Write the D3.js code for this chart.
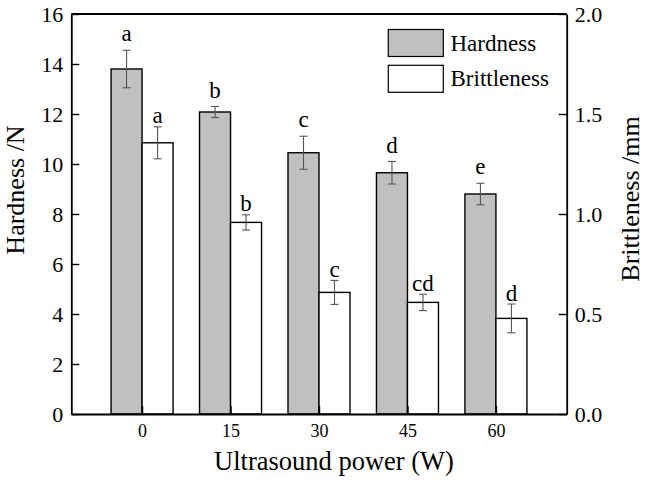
<!DOCTYPE html>
<html>
<head>
<meta charset="utf-8">
<script src="https://cdn.jsdelivr.net/npm/d3@7"></script>
<style>
  body { margin: 0; background: #fff; }
  svg { font-family: "Liberation Serif", "Times New Roman", serif; }
</style>
</head>
<body>
<svg id="Viz" width="646" height="483"></svg>
<script>
// data
let powers = [0, 15, 30, 45, 60];
let hardness = [13.8, 12.08, 10.45, 9.65, 8.8];
let hardnessErr = [0.75, 0.22, 0.66, 0.45, 0.43];
let brittleness = [1.356, 0.958, 0.608, 0.558, 0.478];
let brittlenessErr = [0.08, 0.038, 0.06, 0.041, 0.072];
let hardnessLetters = ['a', 'b', 'c', 'd', 'e'];
let brittlenessLetters = ['a', 'b', 'c', 'cd', 'd'];
let leftTicks = [0, 2, 4, 6, 8, 10, 12, 14, 16];
let rightTicks = [0, 0.5, 1.0, 1.5, 2.0];

let plotL = 71.3, plotR = 566.7, plotT = 14, plotB = 414;
let barW = 31;
let grey = '#c0c0c0';

let vizArea = d3.select('#Viz');

let xScale = d3.scaleLinear().domain([-12, 72]).range([plotL, plotR]);
let yScale = d3.scaleLinear().domain([0, 16]).range([plotB, plotT]);
let y2Scale = d3.scaleLinear().domain([0, 2]).range([plotB, plotT]);

// bars
let hardRows = powers.map((p, i) => ({p: p, v: hardness[i], e: hardnessErr[i], t: hardnessLetters[i]}));
let britRows = powers.map((p, i) => ({p: p, v: brittleness[i], e: brittlenessErr[i], t: brittlenessLetters[i]}));

vizArea.selectAll('.hbar')
  .data(hardRows)
  .enter()
  .append('rect')
  .attr('x', d => xScale(d.p) - barW)
  .attr('y', d => yScale(d.v))
  .attr('width', barW)
  .attr('height', d => plotB - yScale(d.v))
  .attr('fill', grey)
  .attr('stroke', '#000')
  .attr('stroke-width', 1.4);

vizArea.selectAll('.bbar')
  .data(britRows)
  .enter()
  .append('rect')
  .attr('x', d => xScale(d.p))
  .attr('y', d => y2Scale(d.v))
  .attr('width', barW)
  .attr('height', d => plotB - y2Scale(d.v))
  .attr('fill', '#fff')
  .attr('stroke', '#000')
  .attr('stroke-width', 1.4);

// error bars
function errBars(rows, scale, dx) {
  let g = vizArea.append('g').attr('stroke', '#555').attr('stroke-width', 1.1);
  rows.forEach(d => {
    let cx = xScale(d.p) + dx;
    g.append('line').attr('x1', cx).attr('x2', cx)
      .attr('y1', scale(d.v + d.e)).attr('y2', scale(d.v - d.e));
    g.append('line').attr('x1', cx - 4).attr('x2', cx + 4)
      .attr('y1', scale(d.v + d.e)).attr('y2', scale(d.v + d.e));
    g.append('line').attr('x1', cx - 4).attr('x2', cx + 4)
      .attr('y1', scale(d.v - d.e)).attr('y2', scale(d.v - d.e));
  });
}
errBars(hardRows, yScale, -barW / 2);
errBars(britRows, y2Scale, barW / 2);

// significance letters
vizArea.selectAll('.hlet')
  .data(hardRows)
  .enter()
  .append('text')
  .attr('x', d => xScale(d.p) - barW / 2)
  .attr('y', d => yScale(d.v + d.e) - 9)
  .attr('text-anchor', 'middle')
  .attr('font-size', 23)
  .text(d => d.t);

vizArea.selectAll('.blet')
  .data(britRows)
  .enter()
  .append('text')
  .attr('x', d => xScale(d.p) + barW / 2)
  .attr('y', d => y2Scale(d.v + d.e) - 3.5)
  .attr('text-anchor', 'middle')
  .attr('font-size', 23)
  .text(d => d.t);

// axes
let axL = vizArea.append('g')
  .attr('transform', 'translate(' + plotL + ',0)')
  .call(d3.axisLeft(yScale).tickValues(leftTicks).tickSizeInner(-8).tickSizeOuter(0).tickPadding(8));

let axR = vizArea.append('g')
  .attr('transform', 'translate(' + plotR + ',0)')
  .call(d3.axisRight(y2Scale).tickValues(rightTicks).tickFormat(d3.format('.1f'))
    .tickSizeInner(-8).tickSizeOuter(0).tickPadding(8));

let axB = vizArea.append('g')
  .attr('transform', 'translate(0,' + plotB + ')')
  .call(d3.axisBottom(xScale).tickValues(powers).tickSizeInner(-8).tickSizeOuter(0).tickPadding(10));

[axL, axR].forEach(a => a.selectAll('text').attr('font-size', 22).attr('fill', '#000'));
axB.selectAll('text').attr('font-size', 18).attr('fill', '#000');
[axL, axR, axB].forEach(a => {
  a.attr('font-family', null);
  a.select('.domain').attr('stroke-width', 1.8);
  a.selectAll('.tick line').attr('stroke-width', 1.4);
});

// top frame
vizArea.append('line')
  .attr('x1', plotL).attr('x2', plotR)
  .attr('y1', plotT).attr('y2', plotT)
  .attr('stroke', '#000').attr('stroke-width', 1.8);

// axis titles
vizArea.append('text')
  .attr('transform', 'translate(24,190) rotate(-90)')
  .attr('text-anchor', 'middle')
  .attr('font-size', 26)
  .text('Hardness /N');

vizArea.append('text')
  .attr('transform', 'translate(639,199) rotate(-90)')
  .attr('text-anchor', 'middle')
  .attr('font-size', 26)
  .text('Brittleness /mm');

vizArea.append('text')
  .attr('x', 334)
  .attr('y', 470)
  .attr('text-anchor', 'middle')
  .attr('font-size', 26.5)
  .text('Ultrasound power (W)');

// legend
let legendItems = [{name: 'Hardness', fill: grey}, {name: 'Brittleness', fill: '#fff'}];
let leg = vizArea.append('g');
legendItems.forEach((d, i) => {
  leg.append('rect')
    .attr('x', 388.3).attr('y', 29.5 + i * 35.8)
    .attr('width', 55).attr('height', 27)
    .attr('fill', d.fill).attr('stroke', '#000').attr('stroke-width', 1.2);
  leg.append('text')
    .attr('x', 450.5).attr('y', 50.5 + i * 35)
    .attr('font-size', 23)
    .text(d.name);
});
</script>
</body>
</html>
